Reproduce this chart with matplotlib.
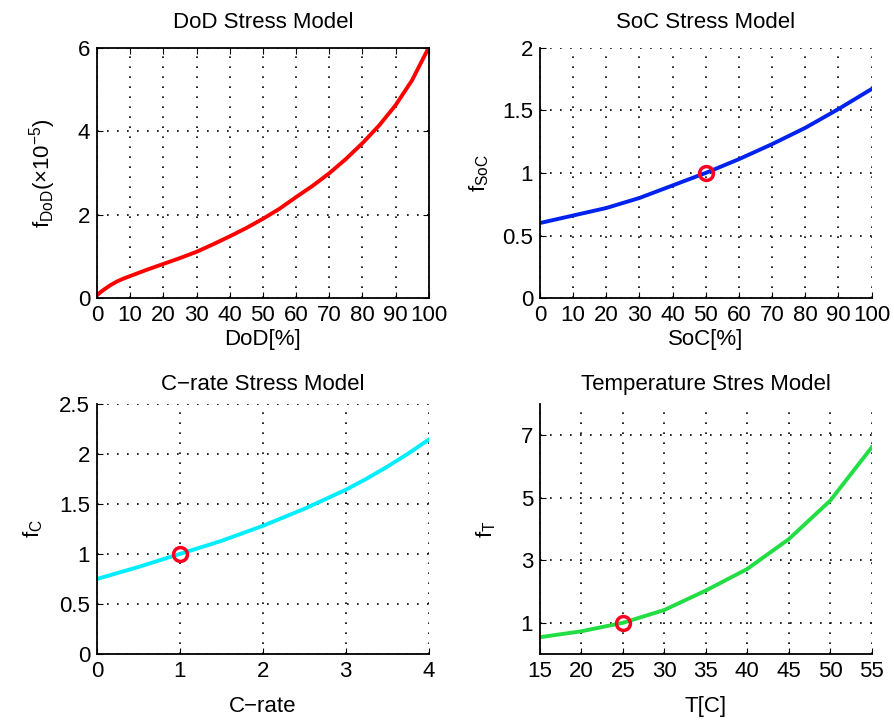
import matplotlib
matplotlib.use("Agg")
import matplotlib.pyplot as plt

plt.rcParams['font.family'] = ['Liberation Sans', 'DejaVu Sans']
plt.rcParams['mathtext.fontset'] = 'custom'
plt.rcParams['mathtext.rm'] = 'Liberation Sans'
plt.rcParams['mathtext.it'] = 'Liberation Sans'

# DoD stress model (x1e-5)
dod = [0, 1, 2, 4, 6, 8, 10, 15, 20, 25, 30, 35, 40, 45, 50, 55, 60, 65, 70, 75, 80, 85, 90, 95, 100]
f_dod = [0.07, 0.14, 0.2, 0.31, 0.4, 0.47, 0.53, 0.68, 0.82, 0.96, 1.11, 1.29, 1.48, 1.68, 1.9, 2.14, 2.42, 2.69, 2.99, 3.33, 3.71, 4.13, 4.62, 5.22, 6.0]

# SoC stress model
soc = [0, 5, 10, 15, 20, 25, 30, 35, 40, 45, 50, 55, 60, 65, 70, 75, 80, 85, 90, 95, 100]
f_soc = [0.60, 0.63, 0.66, 0.69, 0.72, 0.76, 0.80, 0.85, 0.90, 0.95, 1.00, 1.055, 1.11, 1.17, 1.23, 1.295, 1.36, 1.435, 1.51, 1.59, 1.67]

# C-rate stress model
c_rate = [0, 0.25, 0.5, 0.75, 1, 1.25, 1.5, 1.75, 2, 2.25, 2.5, 2.75, 3, 3.25, 3.5, 3.75, 4]
f_c = [0.75, 0.81, 0.87, 0.935, 1.0, 1.065, 1.13, 1.205, 1.28, 1.365, 1.45, 1.545, 1.64, 1.75, 1.87, 2.0, 2.14]

# Temperature stress model
temp = [15, 20, 25, 30, 35, 40, 45, 50, 55]
f_t = [0.54, 0.73, 1.0, 1.41, 2.03, 2.72, 3.67, 4.9, 6.6]

ref_points = {'soc': (50, 1), 'c': (1, 1), 't': (25, 1)}

fs = 16
fig = plt.figure(figsize=(8.94, 7.22), dpi=100)

W = 0.371
H = 0.347
ax1 = fig.add_axes([0.1085, 0.587, W, H])
ax2 = fig.add_axes([0.604, 0.587, W, H])
ax3 = fig.add_axes([0.1085, 0.094, W, H])
ax4 = fig.add_axes([0.604, 0.094, W, H])


def style(ax, box=False):
    ax.grid(True, linestyle=(0, (1, 5)), color='black', linewidth=1.2)
    ax.tick_params(direction='in', length=4, labelsize=fs, pad=5)
    for s in ['left', 'bottom', 'top', 'right']:
        ax.spines[s].set_linewidth(1.3)
    if not box:
        ax.spines['top'].set_visible(False)
        ax.spines['right'].set_visible(False)
        ax.tick_params(top=False, right=False)
    else:
        ax.tick_params(top=True, right=True)


ax1.plot(dod, f_dod, color='#ff0000', lw=2.8)
ax1.set_xlim(0, 100)
ax1.set_ylim(0, 6)
ax1.set_xticks(range(0, 101, 10))
ax1.set_yticks([0, 2, 4, 6])
ax1.set_title('DoD Stress Model', fontsize=fs, pad=14)
ax1.set_xlabel('DoD[%]', fontsize=fs, labelpad=2)
ax1.set_ylabel(r'f$_{\mathrm{DoD}}$(×10$^{-5}$)', fontsize=fs, labelpad=14)
style(ax1, box=True)

ax2.plot(soc, f_soc, color='#0022ee', lw=2.8)
ax2.plot(*ref_points['soc'], 'o', mfc='none', mec='#ff0022', ms=10, mew=2.5)
ax2.set_xlim(0, 100)
ax2.set_ylim(0, 2)
ax2.set_xticks(range(0, 101, 10))
ax2.set_yticks([0, 0.5, 1, 1.5, 2])
ax2.set_yticklabels(['0', '0.5', '1', '1.5', '2'])
ax2.set_title('SoC Stress Model', fontsize=fs, pad=14)
ax2.set_xlabel('SoC[%]', fontsize=fs, labelpad=2)
ax2.set_ylabel(r'f$_{\mathrm{SoC}}$', fontsize=fs, labelpad=8)
style(ax2)

ax3.plot(c_rate, f_c, color='#00eeff', lw=2.8)
ax3.plot(*ref_points['c'], 'o', mfc='none', mec='#ff0022', ms=10, mew=2.5)
ax3.set_xlim(0, 4)
ax3.set_ylim(0, 2.5)
ax3.set_xticks([0, 1, 2, 3, 4])
ax3.set_yticks([0, 0.5, 1, 1.5, 2, 2.5])
ax3.set_yticklabels(['0', '0.5', '1', '1.5', '2', '2.5'])
ax3.set_title('C\u2212rate Stress Model', fontsize=fs, pad=10)
ax3.set_xlabel('C\u2212rate', fontsize=fs, labelpad=10)
ax3.set_ylabel(r'f$_{\mathrm{C}}$', fontsize=fs, labelpad=10)
style(ax3)

ax4.plot(temp, f_t, color='#22dd44', lw=2.8)
ax4.plot(*ref_points['t'], 'o', mfc='none', mec='#ff0022', ms=10, mew=2.5)
ax4.set_xlim(15, 55)
ax4.set_ylim(0, 8)
ax4.set_xticks(range(15, 56, 5))
ax4.set_yticks([1, 3, 5, 7])
ax4.set_title('Temperature Stres Model', fontsize=fs, pad=10)
ax4.set_xlabel('T[C]', fontsize=fs, labelpad=10)
ax4.set_ylabel(r'f$_{\mathrm{T}}$', fontsize=fs, labelpad=16)
style(ax4)

fig.savefig('out.png', dpi=100)
